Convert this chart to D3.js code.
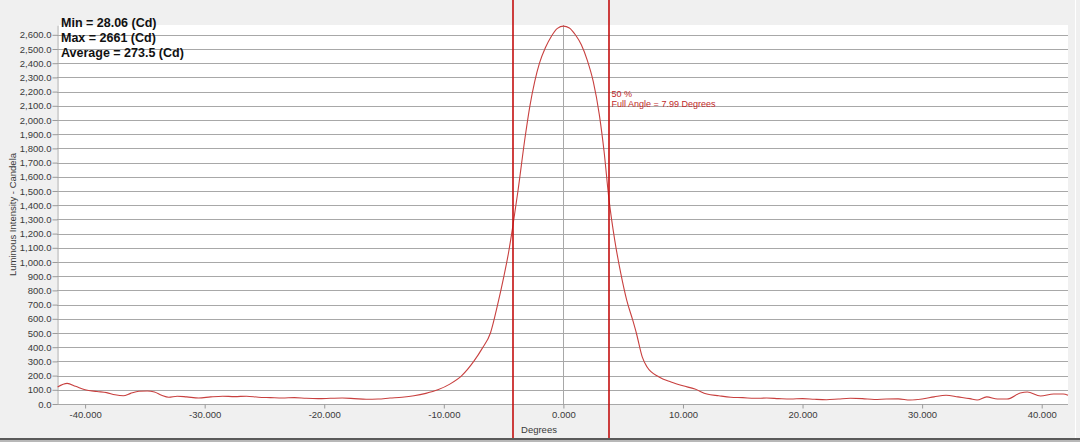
<!DOCTYPE html>
<html><head><meta charset="utf-8">
<script src="https://cdn.jsdelivr.net/npm/d3@7/dist/d3.min.js"></script>
<style>html,body{margin:0;padding:0;background:#f0f0f0;}svg{display:block;}</style>
</head><body>
<svg id="c" width="1080" height="442"></svg>
<script>
// ---- data ----
const degrees = [-42.3,-41.5,-40.8,-40.0,-39.0,-38.2,-37.5,-36.8,-36.2,-35.5,-34.8,-34.2,-33.6,-33.0,-32.3,-31.5,-30.5,-29.5,-28.5,-27.5,-26.5,-25.5,-24.5,-23.5,-22.5,-21.5,-20.5,-19.5,-18.5,-17.5,-16.5,-15.5,-14.5,-13.5,-12.5,-11.5,-10.5,-9.5,-8.5,-7.5,-6.8,-6.1,-5.5,-5.0,-4.6,-4.25,-3.8,-3.2,-2.8,-2.4,-2.0,-1.5,-1.0,-0.5,0.0,0.5,1.0,1.5,2.0,2.5,3.0,3.4,3.8,4.3,4.8,5.3,5.8,6.1,6.6,7.0,8.0,9.0,10.0,11.0,12.0,13.0,14.0,15.0,16.0,17.0,18.0,19.0,20.0,21.0,22.0,23.0,24.0,25.0,26.0,27.0,28.0,29.0,30.0,31.0,32.0,33.0,34.0,34.6,35.4,36.3,37.1,38.2,38.8,39.9,41.0,41.8,42.2];
const candela = [120,145,125,100,88,80,65,58,75,90,92,85,62,48,55,50,42,50,55,52,55,48,45,42,45,40,38,40,42,38,33,35,42,48,58,75,100,140,200,300,390,500,700,890,1060,1240,1500,1880,2100,2270,2400,2510,2590,2645,2661,2648,2600,2530,2420,2270,2040,1780,1450,1150,920,730,590,500,330,260,190,155,128,105,70,58,48,45,40,42,38,35,38,33,30,35,40,38,32,35,36,28,35,50,62,50,38,28,50,35,35,77,85,56,70,70,62];
const halfAngles = [-4.25, 3.78];
const yTicks = d3.range(0, 2601, 100);
const xTicks = [-40,-30,-20,-10,0,10,20,30,40];
const stats = ["Min = 28.06 (Cd)", "Max = 2661 (Cd)", "Average = 273.5 (Cd)"];
const annot = ["50 %", "Full Angle = 7.99 Degrees"];
const xTitle = "Degrees";
const yTitle = "Luminous Intensity - Candela";

// ---- chart ----
const svg = d3.select("#c");
const L = 57, R = 1068, T = 25, B = 404;
const x = d3.scaleLinear().domain([-42.35, 42.2]).range([L, R]);
const y = d3.scaleLinear().domain([0, 2669]).range([B, T]);
const loc = d3.formatLocale({decimal: ".", thousands: ",", grouping: [3], currency: ["", ""], minus: "-"});
const fy = loc.format(",.1f"), fx = loc.format(".3f");
const font = "'Liberation Sans', Arial, sans-serif";

// background
svg.append("rect").attr("width", 1080).attr("height", 442).attr("fill", "#f0f0f0");
svg.append("rect").attr("x", 0).attr("y", 438).attr("width", 1080).attr("height", 2).attr("fill", "#5a5a5a");
svg.append("rect").attr("x", 0).attr("y", 440).attr("width", 1080).attr("height", 2).attr("fill", "#b8b8b8");
svg.append("rect").attr("x", 1075).attr("y", 0).attr("width", 1).attr("height", 438).attr("fill", "#ffffff");
svg.append("rect").attr("x", L).attr("y", T).attr("width", R - L).attr("height", B - T).attr("fill", "#ffffff");

// gridlines
svg.append("g").selectAll("line").data(yTicks).join("line")
  .attr("x1", L).attr("x2", R)
  .attr("y1", d => Math.round(y(d)) + 0.5).attr("y2", d => Math.round(y(d)) + 0.5)
  .attr("stroke", "#a8a8a8").attr("stroke-width", 1);
svg.append("line").attr("x1", Math.round(x(0)) + 0.5).attr("x2", Math.round(x(0)) + 0.5)
  .attr("y1", T).attr("y2", B).attr("stroke", "#a8a8a8");

// axes
const ay = svg.append("g").attr("transform", `translate(${L + 0.5},0)`)
  .call(d3.axisLeft(y).tickValues(yTicks).tickFormat(fy).tickSize(5).tickSizeOuter(0).tickPadding(1));
const ax = svg.append("g").attr("transform", `translate(0,${B + 0.5})`)
  .call(d3.axisBottom(x).tickValues(xTicks).tickFormat(fx).tickSize(4).tickSizeOuter(0).tickPadding(3));
[ay, ax].forEach(g => {
  g.select(".domain").attr("stroke", "#a8a8a8");
  g.selectAll(".tick line").attr("stroke", "#9a9a9a");
  g.selectAll("text").attr("font-family", font).attr("font-size", "9.5px").attr("fill", "#3a3a3a");
});
ax.select(".domain").remove();

// curve
svg.append("path").datum(degrees.map((d, i) => [d, candela[i]]))
  .attr("d", d3.line().x(d => x(d[0])).y(d => y(d[1])).curve(d3.curveMonotoneX))
  .attr("fill", "none").attr("stroke", "#c8403f").attr("stroke-width", 1.1);

// half-intensity lines
svg.append("g").selectAll("line").data(halfAngles).join("line")
  .attr("x1", d => Math.round(x(d))).attr("x2", d => Math.round(x(d)))
  .attr("y1", 0).attr("y2", 438).attr("stroke", "#c41010").attr("stroke-width", 1.6);

// annotation
svg.append("g").selectAll("text").data(annot).join("text")
  .attr("x", x(halfAngles[1]) + 3).attr("y", (d, i) => 97 + i * 10)
  .attr("font-family", font).attr("font-size", "9px").attr("fill", "#c02828").text(d => d);

// stats
svg.append("g").selectAll("text").data(stats).join("text")
  .attr("x", 61).attr("y", (d, i) => 27 + i * 15)
  .attr("font-family", font).attr("font-size", "12.5px").attr("font-weight", "bold").attr("fill", "#111")
  .text(d => d);

// titles
svg.append("text").attr("x", 539).attr("y", 433).attr("text-anchor", "middle")
  .attr("font-family", font).attr("font-size", "9.5px").attr("fill", "#3a3a3a").text(xTitle);
svg.append("text").attr("transform", `translate(16,${(T + B) / 2}) rotate(-90)`).attr("text-anchor", "middle")
  .attr("font-family", font).attr("font-size", "9.5px").attr("fill", "#3a3a3a").text(yTitle);
</script>
</body></html>
